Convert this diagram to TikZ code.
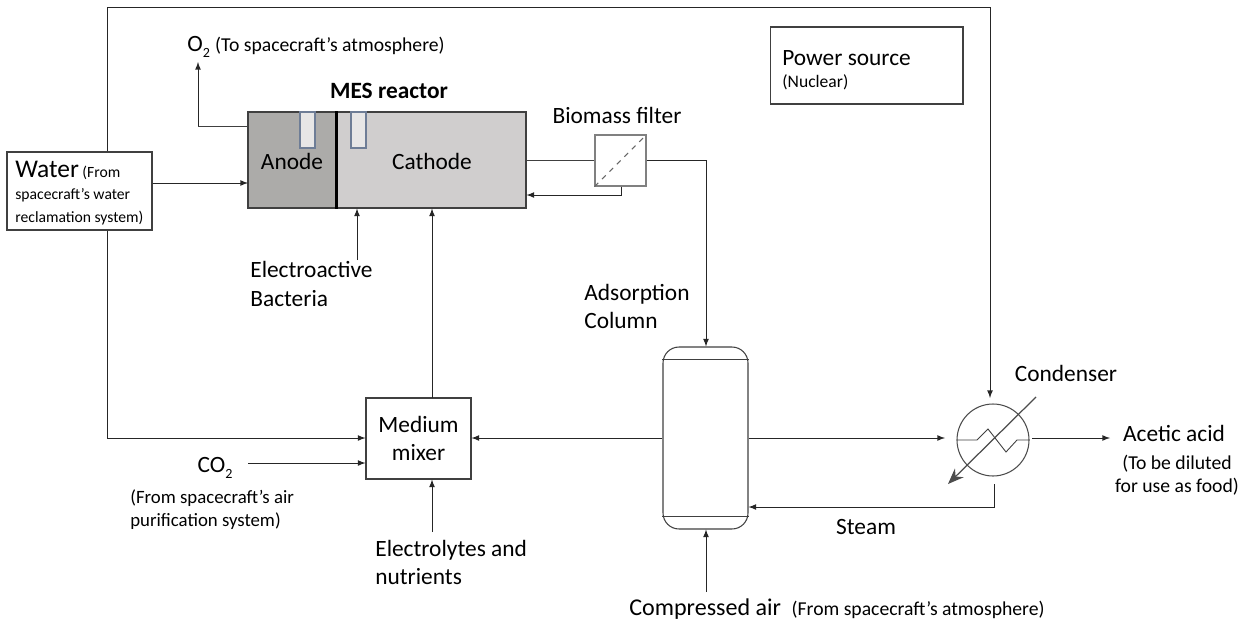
\documentclass[tikz,border=0pt]{standalone}
\usepackage{fontspec}
\setmainfont{Carlito}
\usetikzlibrary{arrows,arrows.meta,calc,shapes.geometric}

\definecolor{anodegray}{RGB}{172,171,169}
\definecolor{cathodegray}{RGB}{208,206,206}
\definecolor{probe}{RGB}{231,230,230}
\definecolor{slate}{RGB}{110,125,150}

\newcommand{\minor}{\fontsize{11.2}{13.2}\selectfont}
\newcommand{\subtwo}{\raisebox{-3.5pt}{\fontsize{8}{8}\selectfont 2}}
\tikzset{
  caption/.style={inner sep=0pt,align=left,font=\fontsize{13.3}{16}\selectfont},
  unit/.style={draw=black!75,line width=0.6pt,inner sep=0pt,fill=white},
  flow/.style={draw,->,>=latex,line width=0.5pt,black!85},
  pipe/.style={draw,line width=0.5pt,black!75},
}

\begin{document}
\begin{tikzpicture}[x=0.02cm,y=-0.02cm]
  \useasboundingbox (0,0) rectangle (1247,622);

  % the reactor
  \node[unit,fill=anodegray,minimum width=1.76cm,minimum height=1.92cm] (anode) at (292,160) {};
  \node[unit,fill=cathodegray,minimum width=3.8cm,minimum height=1.92cm] (cathode) at (431,160) {};
  \node[unit,draw=slate,fill=probe,minimum width=0.3cm,minimum height=0.72cm] (probea) at (307.5,130) {};
  \node[unit,draw=slate,fill=probe,minimum width=0.3cm,minimum height=0.72cm] (probec) at (358.5,130) {};
  \draw[line width=1.6pt] (anode.north east) -- (anode.south east);
  \node[caption] (anodetext) at (292,161) {Anode};
  \node[caption] (cathodetext) at (432,161) {Cathode};
  \node[caption,font=\fontsize{13.3}{16}\selectfont\bfseries] (mes) at (389,91) {MES reactor};

  % units
  \node[unit,minimum width=2.9cm,minimum height=1.56cm] (water) at (79.5,191) {};
  \node[caption,anchor=west,font=\fontsize{8.9}{12.6}\selectfont] (watertext) at (15,193)
    {{\fontsize{14.5}{15}\selectfont Water} (From\\spacecraft’s water\\reclamation system)};
  \node[unit,draw=gray,minimum width=1.02cm,minimum height=1.02cm] (filter) at (620.5,160.5) {};
  \draw[dashed,gray!80!black,line width=0.6pt] (filter.south west) -- (filter.north east);
  \node[caption] (filtertext) at (617,115) {Biomass filter};
  \node[unit,minimum width=2.1cm,minimum height=1.62cm,align=center,font=\fontsize{13.3}{16}\selectfont] (mixer) at (418.5,438.5) {Medium\\mixer};
  \node[unit,rounded corners=0.32cm,minimum width=1.7cm,minimum height=3.64cm] (column) at (705.5,438) {};
  \draw[pipe] (column.west |- 0,359) -- (column.east |- 0,359);
  \draw[pipe] (column.west |- 0,516) -- (column.east |- 0,516);
  \node[unit,circle,minimum size=1.44cm,draw=black!70] (condenser) at (993,440) {};
  \node[unit,minimum width=3.86cm,minimum height=1.54cm] (power) at (866.5,65.5) {};
  \node[caption,anchor=west] (powertext) at (782,58) {Power source};
  \node[caption,anchor=west,font=\fontsize{10}{12}\selectfont] (nucleartext) at (782,82) {(Nuclear)};

  % condenser symbol
  \draw[pipe] (condenser.west) -- (977,440) -- (988,429) -- (1006,452) -- (1017,440) -- (condenser.east);
  \coordinate (coolin) at (1036,397);
  \coordinate (coolout) at (948,484);
  \draw[-{Stealth[length=9pt,width=7pt]},line width=0.7pt,black!70] (coolin) -- (coolout);

  % texts
  \node[caption,anchor=west] (o2text) at (187,47) {O\subtwo\ {\minor (To spacecraft’s atmosphere)}};
  \node[caption,anchor=west] (bacteria) at (250,284) {Electroactive\\Bacteria};
  \node[caption,anchor=west] (adsorption) at (584,306.5) {Adsorption\\Column};
  \node[caption] (co2text) at (215,468) {CO\subtwo};
  \node[caption,anchor=west,font=\fontsize{10.7}{13.2}\selectfont] (purification) at (130,509.5)
    {(From spacecraft’s air\\purification system)};
  \node[caption,anchor=west] (electrolytes) at (375,562.5) {Electrolytes and\\nutrients};
  \node[caption,anchor=west] (air) at (629,609) {{\fontsize{13.7}{16}\selectfont Compressed air}\ \ {\minor (From spacecraft’s atmosphere)}};
  \node[caption] (condensertext) at (1066,373) {Condenser};
  \node[caption] (acid) at (1174,433) {Acetic acid};
  \node[caption,align=center,font=\minor] (dilute) at (1177,475) {(To be diluted\\for use as food)};
  \node[caption] (steam) at (866,527) {Steam};

  % connectors
  \coordinate (oxygen) at (198,62);
  \coordinate (oxygenbend) at (198,126);
  \path[pipe] (anode.west |- oxygenbend) -- (oxygenbend);
  \path[flow] (oxygenbend) -- (oxygen);

  \coordinate (feedwater) at (248,183);
  \path[flow] (water.east |- feedwater) -- (feedwater);

  \coordinate (looptop) at (107,7);
  \coordinate (loopright) at (990,7);
  \coordinate (cooltop) at (990,398);
  \path[flow] (water.north -| looptop) -- (looptop) -- (loopright) -- (cooltop);

  \coordinate (mixwater) at (107,438);
  \path[flow] (water.south -| mixwater) -- (mixwater) -- (mixer.west |- mixwater);

  \coordinate (filterout) at (526,160);
  \path[pipe] (filterout) -- (filter.west |- filterout);
  \coordinate (filterback) at (621,195);
  \path[flow] (filter.south -| filterback) -- (filterback) -- (cathode.east |- filterback);
  \coordinate (columnbend) at (706,160);
  \path[flow] (filter.east |- columnbend) -- (columnbend) -- (column.north -| columnbend);

  \coordinate (bacteriaup) at (357,260);
  \path[flow] (bacteriaup) -- (cathode.south -| bacteriaup);
  \coordinate (mixerup) at (432,398);
  \path[flow] (mixerup) -- (cathode.south -| mixerup);
  \coordinate (co2in) at (248,463);
  \path[flow] (co2in) -- (mixer.west |- co2in);
  \coordinate (nutrients) at (432,532);
  \path[flow] (nutrients) -- (mixer.south -| nutrients);

  \path[flow] (column.west) -- (mixer.east |- column.west);
  \coordinate (condin) at (945,438);
  \path[flow] (column.east |- condin) -- (condin);
  \coordinate (condout) at (1032,438);
  \coordinate (acidend) at (1110,438);
  \path[flow] (condout) -- (acidend);

  \coordinate (steamstart) at (994,484);
  \coordinate (steambend) at (994,507);
  \path[flow] (steamstart) -- (steambend) -- (column.east |- steambend);
  \coordinate (airup) at (706,592);
  \path[flow] (airup) -- (column.south -| airup);
\end{tikzpicture}
\end{document}
